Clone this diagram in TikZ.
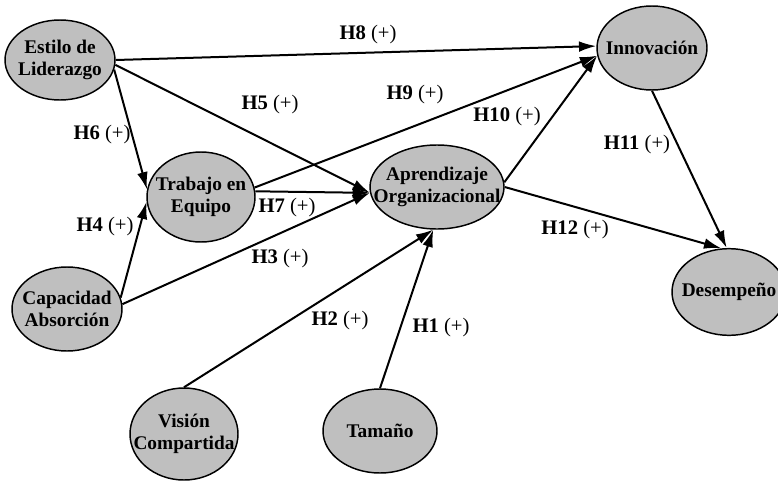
\documentclass[tikz,border=0pt]{standalone}
\usepackage{fontspec}
\setmainfont{Liberation Serif}
\usetikzlibrary{shapes.geometric,arrows.meta}
\begin{document}
\begin{tikzpicture}[x=0.75pt, y=-0.75pt,
    construct/.style={ellipse, draw=black, line width=1.1pt, fill=black!25, inner sep=0pt},
    ctext/.style={align=center, font=\fontsize{14.5}{16.5}\selectfont\bfseries},
    hyp/.style={font=\fontsize{15.5}{17}\selectfont},
    link/.style={line width=1.5pt, -{Latex[length=13pt,width=8pt]}}]
        \clip (0,0) rectangle (778,482);
        % Constructs
        \foreach \n/\x/\y/\w/\h/\t in {est/60/60/82.5/60/{Estilo de\\Liderazgo}, trab/201/197/81/67.5/{Trabajo en\\Equipo}, cap/67/309/82.5/63/{Capacidad\\Absorción}, apr/437/187/100.5/63/{Aprendizaje\\Organizacional}, inn/652/48/82.5/63/{Innovación}, des/729/292/85.5/65/{Desempeño}, vis/184/434/81/69/{Visión\\Compartida}, tam/380/431/85.5/63/{Tamaño}} {
            \node [construct, minimum width=\w pt, minimum height=\h pt] (\n) at (\x,\y) {};
            \node [ctext] (\n-txt) at (\n) {\t};
        }
        % Hypotheses
        \foreach \a/\b in {est.east/inn.178, est.-5/apr.185, est.-10/trab.172, cap.12/trab.185, cap.5/apr.185, trab.6/apr.185, trab.10/inn.188, apr.4/inn.188, apr.0/des.100, inn.south/des.93, vis.north/apr.265, tam.north/apr.265} \draw [link] (\a) -- (\b);
        % Labels
        \foreach \m/\x/\y in {8/368/35, 5/270/105, 6/102/135, 9/415/95, 10/507/117, 11/637/145, 7/287/208, 4/105/227, 3/280/259, 12/575/230, 2/340/321, 1/441/328} \node [hyp] (h\m) at (\x,\y) {\textbf{H\m} (+)};
    \end{tikzpicture}
\end{document}
